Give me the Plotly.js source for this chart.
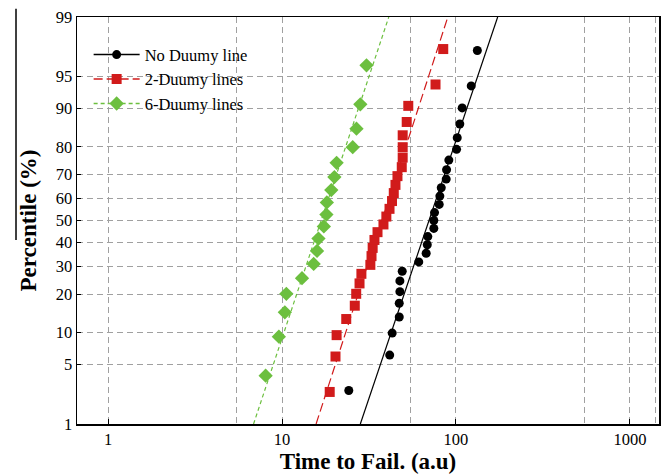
<!DOCTYPE html>
<html><head><meta charset="utf-8">
<script src="https://cdn.plot.ly/plotly-3.0.1.min.js"></script>
<style>html,body{margin:0;padding:0;background:#fff}#chart{width:665px;height:476px}</style>
</head><body><div id="chart"></div>
<script>
// ---- data ----
const seriesNames = ["No Duumy line", "2-Duumy lines", "6-Duumy lines"];

const noDummyTime = [24.2, 41.6, 43.0, 47.2, 47.2, 47.6, 47.6, 49.1, 61.1, 67.4, 68.4, 68.9, 74.6, 74.6, 75.3, 80.1, 80.8, 82.3, 87.9, 88.3, 91.0, 100.8, 101.7, 105.2, 108.6, 122.4, 132.7];
const noDummyPct  = [2.6, 6.2, 9.9, 13.5, 17.2, 20.8, 24.5, 28.1, 31.8, 35.4, 39.1, 42.7, 46.4, 50.0, 53.6, 57.3, 61.0, 64.6, 68.2, 71.9, 75.5, 79.2, 82.8, 86.5, 90.1, 93.8, 97.4];

const dummy2Time = [18.8, 20.3, 20.6, 23.4, 26.2, 26.7, 27.9, 28.6, 32.2, 32.7, 33.2, 34.0, 35.4, 38.3, 39.8, 41.5, 42.9, 43.9, 44.9, 46.1, 48.8, 49.4, 49.4, 49.4, 52.1, 53.2, 76.3, 84.5];
const dummy2Pct  = [2.5, 6.0, 9.5, 13.0, 16.5, 20.1, 23.6, 27.1, 30.6, 34.2, 37.7, 41.2, 44.7, 48.2, 51.8, 55.3, 58.8, 62.3, 65.8, 69.4, 72.9, 76.4, 79.9, 83.5, 87.0, 90.5, 94.0, 97.5];

const dummy6Time = [8.05, 9.59, 10.38, 10.59, 13.03, 15.2, 15.9, 16.2, 17.4, 18.0, 18.1, 19.2, 20.0, 20.6, 25.5, 26.8, 28.2, 30.6];
const dummy6Pct  = [3.8, 9.2, 14.7, 20.1, 25.5, 31.0, 36.4, 41.8, 47.3, 52.7, 58.2, 63.6, 69.0, 74.5, 79.9, 85.3, 90.8, 96.2];

// fitted lognormal lines (end points at 1 % and 99 %)
const fitPct = [1, 99];
const fitNoDummyTime = [28.2, 173.7];
const fit2Time = [15.7, 89.8];
const fit6Time = [6.86, 41.1];

const yTickPct = [1, 5, 10, 20, 30, 40, 50, 60, 70, 80, 90, 95, 99];
const xTickVals = [1, 10, 100, 1000];
const xTickText = ["1", "10", "100", "1000"];
const xExtraGrid = [5.5, 55, 550, 1400];

// ---- normal probability scale ----
function probit(p) {
  const a = [-3.969683028665376e+01, 2.209460984245205e+02, -2.759285104469687e+02, 1.383577518672690e+02, -3.066479806614716e+01, 2.506628277459239e+00];
  const b = [-5.447609879822406e+01, 1.615858368580409e+02, -1.556989798598866e+02, 6.680131188771972e+01, -1.328068155288572e+01];
  const c = [-7.784894002430293e-03, -3.223964580411365e-01, -2.400758277161838e+00, -2.549732539343734e+00, 4.374664141464968e+00, 2.938163982698783e+00];
  const d = [7.784695709041462e-03, 3.224671290700398e-01, 2.445134137142996e+00, 3.754408661907416e+00];
  const pl = 0.02425, ph = 1 - pl;
  let q, r;
  if (p < pl) { q = Math.sqrt(-2 * Math.log(p)); return (((((c[0]*q+c[1])*q+c[2])*q+c[3])*q+c[4])*q+c[5]) / ((((d[0]*q+d[1])*q+d[2])*q+d[3])*q+1); }
  if (p > ph) { q = Math.sqrt(-2 * Math.log(1 - p)); return -(((((c[0]*q+c[1])*q+c[2])*q+c[3])*q+c[4])*q+c[5]) / ((((d[0]*q+d[1])*q+d[2])*q+d[3])*q+1); }
  q = p - 0.5; r = q * q;
  return (((((a[0]*r+a[1])*r+a[2])*r+a[3])*r+a[4])*r+a[5])*q / (((((b[0]*r+b[1])*r+b[2])*r+b[3])*r+b[4])*r+1);
}
const z = arr => arr.map(v => probit(v / 100));

const BLACK = "#000000", RED = "#d11b1b", GREEN = "#6cbf3f";
const serif = "Liberation Serif, Times New Roman, serif";

const styles = [
  {color: BLACK, dash: "solid", symbol: "circle", size: 9},
  {color: RED, dash: "9px,4px", symbol: "square", size: 10},
  {color: GREEN, dash: "4px,3px", symbol: "diamond", size: 11}
];
const pts = [[noDummyTime, noDummyPct], [dummy2Time, dummy2Pct], [dummy6Time, dummy6Pct]];
const fits = [fitNoDummyTime, fit2Time, fit6Time];

const traces = [];
for (let i = 0; i < 3; i++) {
  const s = styles[i];
  traces.push({x: fits[i], y: z(fitPct), mode: "lines", showlegend: false,
    line: {color: s.color, width: 1.2, dash: s.dash}, hoverinfo: "skip"});
  traces.push({x: pts[i][0], y: z(pts[i][1]), mode: "markers", showlegend: false,
    marker: {color: s.color, symbol: s.symbol, size: s.size, line: {width: 0}}});
}
// legend keys
for (let i = 0; i < 3; i++) {
  const s = styles[i];
  traces.push({x: [null], y: [null], mode: "lines+markers", name: seriesNames[i], legendgroup: "g" + i,
    line: {color: s.color, width: 1.4, dash: s.dash},
    marker: {color: s.color, symbol: s.symbol, size: s.size, line: {width: 0}}});
}

const gridGray = "#a0a0a0";
const layout = {
  width: 665, height: 476,
  margin: {l: 77, r: 6, t: 17, b: 52},
  paper_bgcolor: "#ffffff", plot_bgcolor: "#ffffff",
  font: {family: serif, size: 15, color: "#000"},
  showlegend: true,
  legend: {x: 0.02, y: 0.95, xanchor: "left", yanchor: "top", bgcolor: "rgba(255,255,255,0)",
    font: {family: serif, size: 16.5, color: "#000"}, itemwidth: 46, tracegroupgap: 0},
  xaxis: {
    type: "log", range: [Math.log10(0.6627), Math.log10(1470)],
    tickvals: xTickVals, ticktext: xTickText, ticks: "inside", ticklen: 5, tickcolor: "#000",
    showline: true, linecolor: "#000", linewidth: 1.5, mirror: true,
    showgrid: true, gridcolor: gridGray, griddash: "6px,4px", gridwidth: 1,
    minor: {tickvals: xExtraGrid, showgrid: true, gridcolor: gridGray, griddash: "6px,4px", gridwidth: 1, ticks: ""},
    zeroline: false, tickfont: {family: serif, size: 16.5, color: "#000"},
    title: {text: "<b>Time to Fail. (a.u)</b>", font: {family: serif, size: 23, color: "#000"}, standoff: 3}
  },
  yaxis: {
    range: [probit(0.01), probit(0.99)],
    tickvals: z(yTickPct), ticktext: yTickPct.map(String), ticks: "inside", ticklen: 4, tickcolor: "#000",
    showline: true, linecolor: "#000", linewidth: 1.5, mirror: true,
    showgrid: true, gridcolor: gridGray, griddash: "6px,4px", gridwidth: 1,
    zeroline: false, tickfont: {family: serif, size: 16.5, color: "#000"},
    title: {text: "<b>Percentile (%)</b>", font: {family: serif, size: 23, color: "#000"}, standoff: 12}
  },
  shapes: [
    {type: "rect", xref: "paper", yref: "paper", x0: 0.002, x1: 0.328, y0: 0.752, y1: 0.998,
      fillcolor: "#ffffff", line: {width: 0}, layer: "between"},
    {type: "line", xref: "paper", yref: "paper", x0: -0.1048, x1: -0.1048, y0: 0.452, y1: 1.02,
      line: {color: "#000", width: 1.5}}
  ]
};

Plotly.newPlot("chart", traces, layout, {displayModeBar: false, staticPlot: true});
</script>
</body></html>
